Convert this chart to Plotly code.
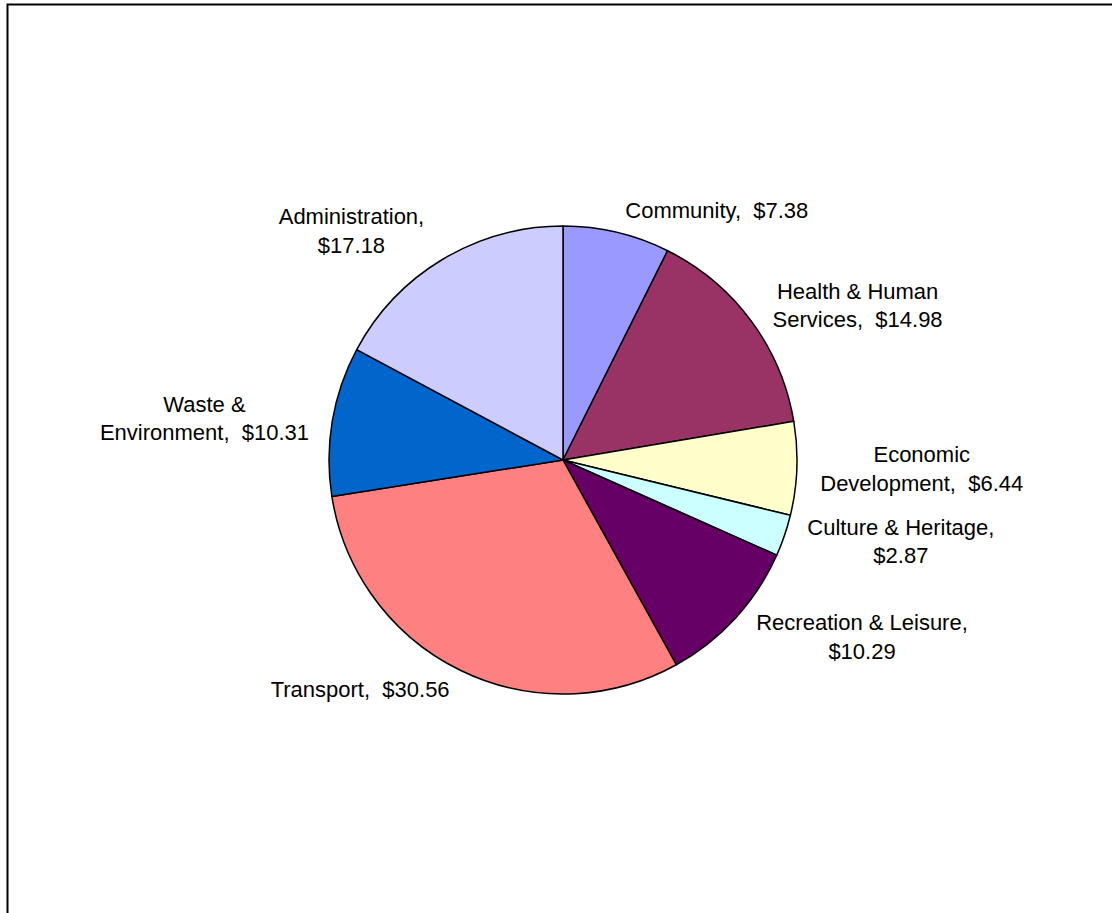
import plotly.graph_objects as go

categories = ["Community", "Health & Human Services", "Economic Development",
              "Culture & Heritage", "Recreation & Leisure", "Transport",
              "Waste & Environment", "Administration"]
values = [7.38, 14.98, 6.44, 2.87, 10.29, 30.56, 10.31, 17.18]
label_text = ["Community,  $7.38", "Health & Human<br>Services,  $14.98",
              "Economic<br>Development,  $6.44", "Culture & Heritage,<br>$2.87",
              "Recreation & Leisure,<br>$10.29", "Transport,  $30.56",
              "Waste &<br>Environment,  $10.31", "Administration,<br>$17.18"]
colors = ["#9999FF", "#993366", "#FFFFCC", "#CCFFFF", "#660066", "#FF8080",
          "#0066CC", "#CCCCFF"]

W, H = 1112, 913
cx, cy, R = 563, 460, 234
R_LABEL = R + 10  # labels sit a little further out than the pie edge


def dom(r):
    return dict(x=[(cx - r) / W, (cx + r) / W], y=[(H - cy - r) / H, (H - cy + r) / H])


fig = go.Figure()
fig.add_trace(go.Pie(
    labels=categories, values=values,
    sort=False, direction="clockwise", rotation=0,
    marker=dict(colors=colors, line=dict(color="black", width=1.5)),
    textinfo="none", hoverinfo="label+value", showlegend=False,
    domain=dom(R),
))
fig.add_trace(go.Pie(
    labels=categories, values=values, text=label_text,
    sort=False, direction="clockwise", rotation=0,
    marker=dict(colors=["rgba(0,0,0,0)"] * len(values), line=dict(width=0)),
    textinfo="text", textposition="outside",
    outsidetextfont=dict(family="Liberation Sans, Arial, sans-serif", size=22, color="black"),
    hoverinfo="skip", showlegend=False,
    domain=dom(R_LABEL),
))

fig.update_layout(
    width=W, height=H, margin=dict(l=0, r=0, t=0, b=0),
    paper_bgcolor="white", plot_bgcolor="white",
    shapes=[dict(type="rect", xref="paper", yref="paper",
                 x0=7.5 / W, x1=1.02, y0=-0.02, y1=(H - 4.5) / H,
                 line=dict(color="black", width=2))],
)

fig.write_html("out.html")
